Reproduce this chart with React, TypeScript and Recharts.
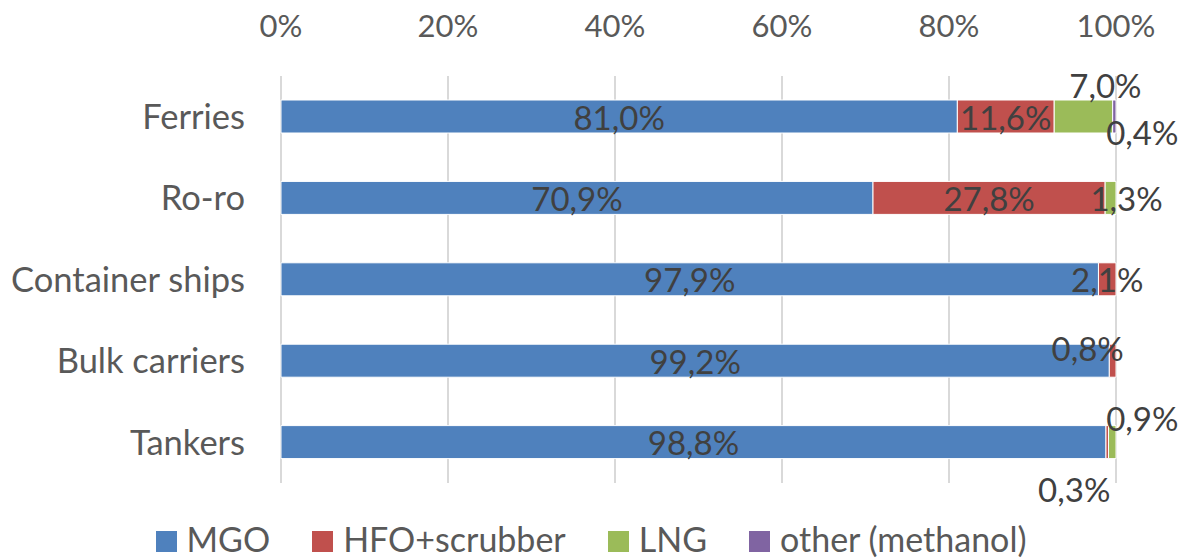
import { Bar, BarChart, CartesianGrid, LabelList, Legend, XAxis, YAxis } from 'recharts'

const categories = ['Ferries', 'Ro-ro', 'Container ships', 'Bulk carriers', 'Tankers']
const mgo = [81.0, 70.9, 97.9, 99.2, 98.8]
const hfoScrubber = [11.6, 27.8, 2.1, 0.8, 0.3]
const lng = [7.0, 1.3, 0, 0, 0.9]
const otherMethanol = [0.4, 0, 0, 0, 0]
const xTicks = [0, 20, 40, 60, 80, 100]

const FONT = 'Lato, "Open Sans", sans-serif'

const series = [
  { key: 'mgo', name: 'MGO', color: '#4F81BD', values: mgo },
  { key: 'hfo', name: 'HFO+scrubber', color: '#C0504D', values: hfoScrubber },
  { key: 'lng', name: 'LNG', color: '#9BBB59', values: lng },
  { key: 'other', name: 'other (methanol)', color: '#8064A2', values: otherMethanol },
]

// label nudges (dx, dy) where Excel moved small labels off the bar
const labelNudge: Record<string, [number, number][]> = {
  mgo: [[0, 0], [0, 0], [0, 0], [0, 0], [0, 0]],
  hfo: [[0, 0], [0, 0], [0, 0], [-25, -13], [-33, 47]],
  lng: [[22, -32], [16, 0], [0, 0], [0, 0], [30, -24]],
  other: [[28, 15], [0, 0], [0, 0], [0, 0], [0, 0]],
}

const data = categories.map((name, i) => ({
  name,
  row: i,
  mgo: mgo[i],
  hfo: hfoScrubber[i],
  lng: lng[i],
  other: otherMethanol[i],
}))

const fmt = (v: number) => `${v.toFixed(1).replace('.', ',')}%`

function makeLabel(key: string, values: number[]) {
  return (props: any) => {
    const { x, y, width, height, value } = props
    const row = Number(value)
    const v = values[row]
    if (!v) return null
    const [dx, dy] = labelNudge[key][row] ?? [0, 0]
    return (
      <text
        x={Number(x) + Number(width) / 2 + dx}
        y={Number(y) + Number(height) / 2 + dy}
        textAnchor="middle"
        dominantBaseline="central"
        fill="#404040"
        fontSize={33}
        fontFamily={FONT}
      >
        {fmt(v)}
      </text>
    )
  }
}

function LegendRow() {
  return (
    <div
      style={{
        height: 76,
        boxSizing: 'border-box',
        paddingTop: 38,
        display: 'flex',
        justifyContent: 'center',
        alignItems: 'flex-start',
        gap: 42,
        fontFamily: FONT,
        fontSize: 34,
        lineHeight: '36px',
        color: '#595959',
      }}
    >
      {series.map((s) => (
        <div key={s.key} style={{ display: 'flex', alignItems: 'center', gap: 10 }}>
          <span style={{ width: 21, height: 21, marginTop: 4, background: s.color, display: 'inline-block' }} />
          <span>{s.name}</span>
        </div>
      ))}
    </div>
  )
}

export default function App() {
  return (
    <div style={{ position: 'absolute', left: 0, top: 0, width: 1182, height: 559, background: '#fff', overflow: 'hidden' }}>
      <BarChart
        width={1182}
        height={559}
        data={data}
        layout="vertical"
        margin={{ top: 0, right: 66, left: 0, bottom: 0 }}
        barSize={33}
      >
        <CartesianGrid horizontal={false} stroke="#d9d9d9" strokeWidth={2} />
        <XAxis
          type="number"
          orientation="top"
          domain={[0, 100]}
          ticks={xTicks}
          tickFormatter={(v) => `${v}%`}
          axisLine={false}
          tickLine={false}
          height={76}
          tickMargin={33}
          tick={{ fontSize: 31, fill: '#595959', fontFamily: FONT }}
        />
        <YAxis
          type="category"
          dataKey="name"
          axisLine={false}
          tickLine={false}
          width={281}
          tickMargin={30}
          tick={{ fontSize: 34.5, fill: '#595959', fontFamily: FONT }}
        />
        <Legend
          verticalAlign="bottom"
          content={() => <LegendRow />}
          wrapperStyle={{ left: 0, width: 1182, bottom: 0, height: 76 }}
        />
        {series.map((s) => (
          <Bar key={s.key} dataKey={s.key} name={s.name} stackId="a" fill={s.color} stroke="#fff" strokeWidth={1} isAnimationActive={false}>
            <LabelList dataKey="row" content={makeLabel(s.key, s.values)} />
          </Bar>
        ))}
      </BarChart>
    </div>
  )
}
